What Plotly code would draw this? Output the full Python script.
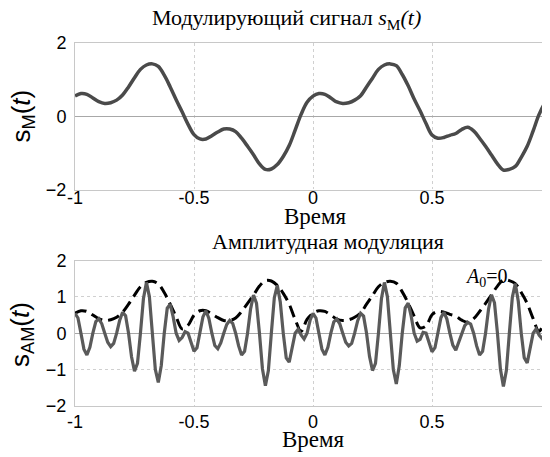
import plotly.graph_objects as go

# time axes
t_top = [round(-1 + 0.025 * i, 4) for i in range(81)]
t_am = [round(-1 + 0.0125 * i, 5) for i in range(161)]

# modulating signal s_M(t) (step 0.025)
s_m = [0.55, 0.62, 0.60, 0.50, 0.40, 0.35, 0.37, 0.44, 0.58, 0.80,
       1.05, 1.28, 1.40, 1.43, 1.36, 1.12, 0.80, 0.45, 0.12, -0.22,
       -0.50, -0.62, -0.62, -0.53, -0.43, -0.35, -0.35, -0.42, -0.60, -0.82,
       -1.05, -1.30, -1.45, -1.44, -1.32, -1.10, -0.80, -0.38, 0.05, 0.38,
       0.55, 0.62, 0.60, 0.50, 0.39, 0.35, 0.37, 0.44, 0.56, 0.80,
       1.04, 1.28, 1.40, 1.43, 1.38, 1.14, 0.83, 0.47, 0.15, -0.20,
       -0.51, -0.60, -0.58, -0.52, -0.47, -0.36, -0.30, -0.40, -0.60, -0.82,
       -1.06, -1.30, -1.47, -1.45, -1.37, -1.12, -0.82, -0.40, 0.05, 0.36,
       0.52]

# envelope |s_M(t)| (dashed curve in the lower panel)
env = [0.55, 0.62, 0.60, 0.50, 0.40, 0.35, 0.37, 0.44, 0.58, 0.80,
       1.05, 1.28, 1.40, 1.43, 1.36, 1.12, 0.80, 0.45, 0.12, 0.22,
       0.50, 0.62, 0.62, 0.53, 0.43, 0.35, 0.35, 0.42, 0.60, 0.82,
       1.05, 1.30, 1.45, 1.44, 1.32, 1.10, 0.80, 0.38, 0.05, 0.38,
       0.55, 0.62, 0.60, 0.50, 0.39, 0.35, 0.37, 0.44, 0.56, 0.80,
       1.04, 1.28, 1.40, 1.43, 1.38, 1.14, 0.83, 0.47, 0.15, 0.20,
       0.51, 0.60, 0.58, 0.52, 0.47, 0.36, 0.30, 0.40, 0.60, 0.82,
       1.06, 1.30, 1.47, 1.45, 1.37, 1.12, 0.82, 0.40, 0.05, 0.36,
       0.52]

# AM signal s_AM(t) (step 0.0125)
s_am = [0.55, 0.42, 0, -0.44, -0.60, -0.39, 0, 0.32,
        0.40, 0.26, 0, -0.25, -0.37, -0.28, 0, 0.35,
        0.58, 0.48, 0, -0.65, -1.05, -0.83, 0, 0.95,
        1.40, 1.01, 0, -1.00, -1.36, -0.89, 0, 0.69,
        0.80, 0.45, 0, -0.20, -0.12, 0.04, 0, -0.26,
        -0.50, -0.40, 0, 0.45, 0.62, 0.41, 0, -0.34,
        -0.43, -0.27, 0, 0.24, 0.35, 0.27, 0, -0.35,
        -0.60, -0.50, 0, 0.66, 1.05, 0.83, 0, -0.98,
        -1.45, -1.03, 0, 0.98, 1.32, 0.86, 0, -0.68,
        -0.80, -0.42, 0, 0.11, -0.05, -0.16, 0, 0.35,
        0.55, 0.42, 0, -0.44, -0.60, -0.39, 0, 0.31,
        0.39, 0.26, 0, -0.25, -0.35, -0.28, 0, 0.34,
        0.55, 0.47, 0, -0.64, -1.03, -0.83, 0, 0.95,
        1.40, 1.01, 0, -1.00, -1.40, -0.90, 0, 0.70,
        0.83, 0.47, 0, -0.22, -0.17, 0.02, 0, -0.27,
        -0.51, -0.40, 0, 0.43, 0.58, 0.39, 0, -0.33,
        -0.47, -0.26, 0, 0.21, 0.30, 0.25, 0, -0.35,
        -0.60, -0.50, 0, 0.66, 1.06, 0.84, 0, -0.99,
        -1.47, -1.03, 0, 0.99, 1.37, 0.88, 0, -0.68,
        -0.82, -0.44, 0, 0.12, -0.05, -0.15, 0, 0.34,
        0.50]

x_ticks = [-1, -0.5, 0, 0.5, 1]
x_ticktext = ["-1", "-0.5", "0", "0.5", "1"]
y_ticks_top = [-2, 0, 2]
y_ticks_bot = [-2, -1, 0, 1, 2]

# the page adds an 8px body margin, so figure coordinates are reference pixels minus 8
W, H = 544, 449
ML, MR = 67, 1

fig = go.Figure()

fig.add_trace(go.Scatter(x=t_top, y=s_m, mode="lines", line=dict(color="#4a4a4a", width=3.5, shape="spline"),
                         xaxis="x", yaxis="y", showlegend=False, hoverinfo="skip"))
fig.add_trace(go.Scatter(x=t_top, y=env, mode="lines",
                         line=dict(color="#000000", width=3, dash="12px,6px", shape="spline"),
                         xaxis="x2", yaxis="y2", showlegend=False, hoverinfo="skip"))
fig.add_trace(go.Scatter(x=t_am, y=s_am, mode="lines", line=dict(color="#5a5a5a", width=3.2),
                         xaxis="x2", yaxis="y2", showlegend=False, hoverinfo="skip"))

tickfont = dict(family="Liberation Sans, Arial, sans-serif", size=18, color="#000000")
axis_common = dict(range=[-1, 1], tickmode="array", tickvals=x_ticks, ticktext=x_ticktext,
                   showgrid=True, gridcolor="#d0d0d0", griddash="dot", gridwidth=1,
                   showline=True, linecolor="#c8c8c8", linewidth=1, mirror=True,
                   ticks="", tickfont=tickfont, zeroline=False, ticklabeloverflow="allow",
                   automargin=False)
yaxis_common = dict(showgrid=True, gridcolor="#d0d0d0", griddash="dot", gridwidth=1,
                    showline=True, linecolor="#c8c8c8", linewidth=1, mirror=True,
                    ticks="", tickfont=tickfont, zeroline=True, zerolinecolor="#a8a8a8",
                    zerolinewidth=1, range=[-2, 2], ticklabelstandoff=4, automargin=False)

top_dom = [(H - 181.5) / H, (H - 35) / H]
bot_dom = [(H - 397.7) / H, (H - 252.7) / H]

fig.update_layout(
    width=W, height=H, autosize=False,
    margin=dict(l=ML, r=MR, t=0, b=0, pad=0),
    paper_bgcolor="#ffffff", plot_bgcolor="#ffffff",
    xaxis=dict(domain=[0, 1], anchor="y", ticklabelstandoff=-8, **axis_common),
    yaxis=dict(domain=top_dom, anchor="x", tickvals=y_ticks_top, **yaxis_common),
    xaxis2=dict(domain=[0, 1], anchor="y2", **axis_common),
    yaxis2=dict(domain=bot_dom, anchor="x2", tickvals=y_ticks_bot, **yaxis_common),
)

serif = "Liberation Serif, Times New Roman, serif"
sans = "Liberation Sans, Arial, sans-serif"
pw = W - ML - MR


def px_x(px):
    return (px - ML) / pw


def px_y(py):
    return (H - py) / H


ann = [
    dict(text="Модулирующий сигнал <i>s</i><sub>М</sub><i>(t)</i>", x=px_x(278), y=px_y(11),
         font=dict(family=serif, size=22)),
    dict(text="Время", x=px_x(307), y=px_y(208), font=dict(family=serif, size=23)),
    dict(text="Амплитудная модуляция", x=px_x(320), y=px_y(233), font=dict(family=serif, size=22)),
    dict(text="Время", x=px_x(305), y=px_y(431), font=dict(family=serif, size=23)),
    dict(text="s<sub>M</sub>(<i>t</i>)", x=px_x(14.5), y=px_y(108), textangle=-90,
         font=dict(family=sans, size=26)),
    dict(text="s<sub>AM</sub>(<i>t</i>)", x=px_x(13), y=px_y(327), textangle=-90,
         font=dict(family=sans, size=26)),
    dict(text="<i>A</i><sub>0</sub>=0", x=px_x(478), y=px_y(269), font=dict(family=serif, size=20)),
]
for a in ann:
    a.update(xref="paper", yref="paper", showarrow=False, xanchor="center", yanchor="middle")
    a["font"]["color"] = "#000000"
fig.update_layout(annotations=ann)

fig.write_html("out.html")
